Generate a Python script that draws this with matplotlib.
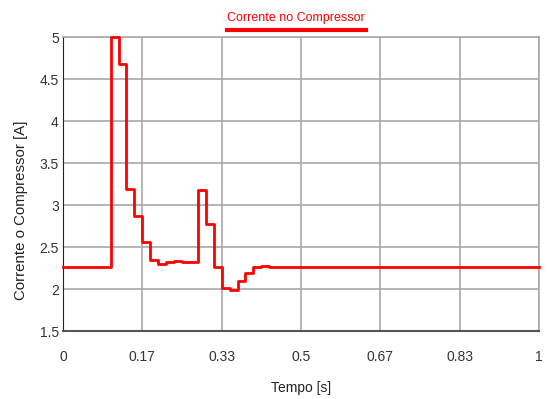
import matplotlib
matplotlib.use("Agg")
import matplotlib.pyplot as plt
from matplotlib.lines import Line2D

plt.rcParams['font.family'] = ['Liberation Sans', 'DejaVu Sans']

tempo = [0.0, 0.1, 0.1167, 0.1185, 0.1333, 0.15, 0.1667, 0.1833, 0.2, 0.2167,
         0.2333, 0.25, 0.2833, 0.3, 0.3167, 0.3333, 0.35, 0.3667, 0.3833, 0.4,
         0.4167, 0.4333, 1.0]
corrente = [2.26, 5.0, 4.85, 4.68, 3.19, 2.87, 2.56, 2.35, 2.30, 2.32,
            2.335, 2.32, 3.18, 2.78, 2.26, 2.01, 1.99, 2.10, 2.19, 2.26,
            2.27, 2.26, 2.26]

x_ticks = [0, 1/6, 2/6, 3/6, 4/6, 5/6, 1]
x_labels = ["0", "0.17", "0.33", "0.5", "0.67", "0.83", "1"]
y_ticks = [1.5, 2, 2.5, 3, 3.5, 4, 4.5, 5]
y_labels = ["1.5", "2", "2.5", "3", "3.5", "4", "4.5", "5"]

fig = plt.figure(figsize=(5.5, 3.99), dpi=100)
ax = fig.add_axes([0.1145, 0.1704, 0.8655, 0.7366])

ax.plot(tempo, corrente, drawstyle='steps-post', color='#ff0000', lw=2.0, clip_on=False, zorder=3)

ax.set_xlim(0, 1)
ax.set_ylim(1.5, 5)
ax.set_xticks(x_ticks)
ax.set_xticklabels(x_labels)
ax.set_yticks(y_ticks)
ax.set_yticklabels(y_labels)
ax.tick_params(length=0, labelsize=10, colors='#333333', pad=3)
ax.tick_params(axis='x', pad=14)
ax.grid(True, color='#a8a8a8', lw=1.2)

for s in ['top', 'right']:
    ax.spines[s].set_color('#a8a8a8')
    ax.spines[s].set_linewidth(1.2)
ax.spines['left'].set_color('#222222')
ax.spines['bottom'].set_color('#555555')
ax.spines['bottom'].set_linewidth(1.5)

ax.set_xlabel("Tempo [s]", fontsize=10, color='#222222', labelpad=12)
ax.set_ylabel("Corrente o Compressor [A]", fontsize=10.8, color='#222222')
ax.yaxis.set_label_coords(-0.073, 0.41)

# legend-like title with red bar underneath
fig.text(0.538, 0.955, "Corrente no Compressor", color='#ff0000', fontsize=9, ha='center', va='center')
fig.add_artist(Line2D([0.413, 0.665], [0.926, 0.926], color='#ff0000', lw=3, transform=fig.transFigure))

fig.savefig("out.png", dpi=100)
